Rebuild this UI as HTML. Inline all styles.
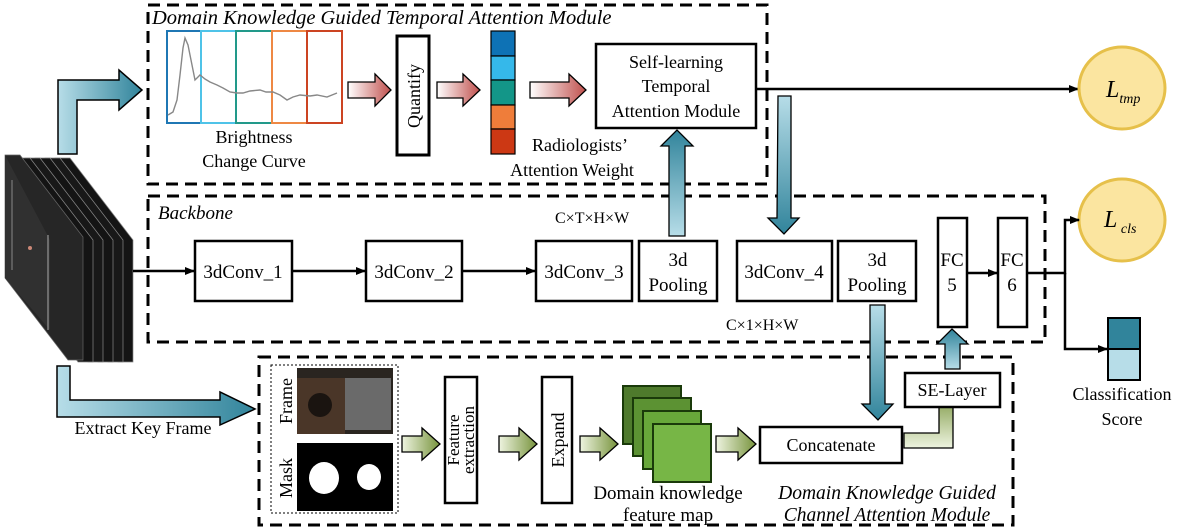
<!DOCTYPE html>
<html><head><meta charset="utf-8"><style>
html,body{margin:0;padding:0;background:#fff;}
svg{display:block;font-family:"Liberation Serif",serif;}
</style></head><body>
<svg width="1183" height="529" viewBox="0 0 1183 529" xmlns="http://www.w3.org/2000/svg">
<defs>
<linearGradient id="red" x1="0" x2="1" y1="0" y2="0"><stop offset="0" stop-color="#fff"/><stop offset="1" stop-color="#c0504d"/></linearGradient>
<linearGradient id="grn" x1="0" x2="1" y1="0" y2="0"><stop offset="0" stop-color="#eef4e0"/><stop offset="1" stop-color="#77933c"/></linearGradient>
<linearGradient id="grnv" x1="0" x2="0" y1="1" y2="0"><stop offset="0" stop-color="#eef4e0"/><stop offset="1" stop-color="#77933c"/></linearGradient>
<linearGradient id="blu" x1="0" x2="1" y1="0" y2="0"><stop offset="0" stop-color="#b7dde8"/><stop offset="1" stop-color="#31849b"/></linearGradient>
<linearGradient id="bluv" x1="0" x2="0" y1="0" y2="1"><stop offset="0" stop-color="#b7dde8"/><stop offset="1" stop-color="#31849b"/></linearGradient>
<linearGradient id="bluu" x1="0" x2="0" y1="1" y2="0"><stop offset="0" stop-color="#b7dde8"/><stop offset="1" stop-color="#31849b"/></linearGradient>
<marker id="ah" markerWidth="10" markerHeight="8" refX="9" refY="4" orient="auto" markerUnits="userSpaceOnUse"><path d="M0,0 L10,4 L0,8 Z" fill="#000"/></marker>
</defs>

<g fill="none" stroke="#000" stroke-width="3" stroke-dasharray="12,7">
<rect x="148" y="5" width="619" height="179"/>
<rect x="148" y="196" width="897" height="146"/>
<rect x="259" y="357" width="754" height="168"/>
</g>
<text x="152" y="24" font-size="20.5" font-style="italic">Domain Knowledge Guided Temporal Attention Module</text>
<text x="158" y="219" font-size="19" font-style="italic">Backbone</text>

<g stroke="#888" stroke-width="0.7">
<polygon points="55,158 70,158 133,240 133,362 118,362 55,280" fill="#141414"/>
<polygon points="45,158 60,158 123,240 123,362 108,362 45,280" fill="#181818"/>
<polygon points="35,158 50,158 113,240 113,362 98,362 35,280" fill="#141414"/>
<polygon points="25,158 40,158 103,240 103,362 88,362 25,280" fill="#181818"/>
<polygon points="15,158 30,158 93,240 93,362 78,362 15,280" fill="#141414"/>
</g>
<polygon points="5,155 20,155 83,237 83,360 68,360 5,278" fill="#262626" stroke="#666" stroke-width="0.7"/>
<polygon points="5,155 50,240 50,330 5,278" fill="#303030"/>
<line x1="12" y1="180" x2="12" y2="270" stroke="#888"/>
<line x1="48" y1="235" x2="48" y2="330" stroke="#aaa"/>
<circle cx="30" cy="248" r="2" fill="#c87"/>

<path d="M58,154 L58,80 L119,80 L119,70 L142,90 L119,110 L119,100 L77,100 L77,154 Z" fill="url(#blu)" stroke="#000" stroke-width="1.5"/>
<path d="M57,366 L57,417 L220,417 L220,425 L255,409 L220,392 L220,400 L70,400 L70,366 Z" fill="url(#blu)" stroke="#000" stroke-width="1.5"/>
<text x="143" y="434" font-size="18" text-anchor="middle">Extract Key Frame</text>

<g fill="none" stroke-width="2">
<rect x="167" y="31" width="34" height="92" stroke="#1f77b4"/>
<rect x="201" y="31" width="35" height="92" stroke="#4fc3e8"/>
<rect x="236" y="31" width="36" height="92" stroke="#22998a"/>
<rect x="272" y="31" width="35" height="92" stroke="#ee8844"/>
<rect x="307" y="31" width="35" height="92" stroke="#cc4422"/>
</g>
<polyline fill="none" stroke="#888" stroke-width="1.4" points="168,115 173,112 177,100 180,75 183,48 185,38 188,45 190,55 193,70 195,80 198,77 200,75 205,79 210,82 217,85 223,88 230,92 237,93 243,93 250,91 260,90 266,92 273,92 280,95 287,100 293,97 300,95 310,96 317,95 327,97 337,93"/>
<text x="254" y="143" font-size="18" text-anchor="middle">Brightness</text>
<text x="254" y="167" font-size="18" text-anchor="middle">Change Curve</text>

<g fill="url(#red)" stroke="#000" stroke-width="1.3">
<path d="M348,82 L375,82 L375,74 L391,90 L375,106 L375,98 L348,98 Z"/>
<path d="M437,82 L463,82 L463,74 L480,90 L463,106 L463,98 L437,98 Z"/>
<path d="M530,82 L569,82 L569,74 L586,90 L569,106 L569,98 L530,98 Z"/>
</g>
<rect x="397" y="36" width="32" height="119" fill="#fff" stroke="#000" stroke-width="3"/>
<text transform="translate(420,96) rotate(-90)" font-size="18" text-anchor="middle">Quantify</text>

<g stroke="#000" stroke-width="1.2">
<rect x="491" y="31" width="24" height="25" fill="#0e72b5"/>
<rect x="491" y="56" width="24" height="24" fill="#35b8ea"/>
<rect x="491" y="80" width="24" height="25" fill="#139688"/>
<rect x="491" y="105" width="24" height="24" fill="#ef7d3a"/>
<rect x="491" y="129" width="24" height="25" fill="#cc3814"/>
</g>
<text x="580" y="151" font-size="18" text-anchor="middle">Radiologists’</text>
<text x="572" y="176" font-size="18" text-anchor="middle">Attention Weight</text>

<rect x="596" y="44" width="160" height="84" fill="#fff" stroke="#000" stroke-width="2.5"/>
<text x="676" y="68" font-size="18" text-anchor="middle">Self-learning</text>
<text x="676" y="92" font-size="18" text-anchor="middle">Temporal</text>
<text x="676" y="117" font-size="18" text-anchor="middle">Attention Module</text>

<line x1="756" y1="89" x2="1078" y2="89" stroke="#000" stroke-width="2.5" marker-end="url(#ah)"/>
<ellipse cx="1122" cy="88" rx="43" ry="41" fill="#fbe5a0" stroke="#e6c04a" stroke-width="3"/>
<text x="1106" y="97" font-size="24" font-style="italic">L<tspan font-size="14" dy="6">tmp</tspan></text>
<ellipse cx="1122" cy="220" rx="43" ry="41" fill="#fbe5a0" stroke="#e6c04a" stroke-width="3"/>
<text x="1104" y="227" font-size="24" font-style="italic">L<tspan font-size="14" dy="6"> cls</tspan></text>

<path d="M669,236 L669,146 L661,146 L677,130 L693,146 L685,146 L685,236 Z" fill="url(#bluu)" stroke="#000" stroke-width="1.3"/>
<path d="M778,96 L791,96 L791,218 L799,218 L784,234 L768,218 L777,218 Z" fill="url(#bluv)" stroke="#000" stroke-width="1.3"/>
<path d="M870,305 L885,305 L885,404 L893,404 L878,420 L862,404 L870,404 Z" fill="url(#bluv)" stroke="#000" stroke-width="1.3"/>
<path d="M945,369 L945,344 L937,344 L952,329 L968,344 L960,344 L960,369 Z" fill="url(#bluu)" stroke="#000" stroke-width="1.3"/>

<text x="555" y="223" font-size="16">C×T×H×W</text>
<text x="726" y="330" font-size="16">C×1×H×W</text>

<g fill="#fff" stroke="#000" stroke-width="2.5">
<rect x="195" y="241" width="97" height="60"/>
<rect x="366" y="241" width="96" height="60"/>
<rect x="536" y="241" width="96" height="60"/>
<rect x="639" y="241" width="78" height="60"/>
<rect x="737" y="241" width="95" height="60"/>
<rect x="838" y="241" width="78" height="60"/>
<rect x="938" y="218" width="29" height="109"/>
<rect x="998" y="218" width="29" height="109"/>
</g>
<g font-size="19" text-anchor="middle">
<text x="243" y="278">3dConv_1</text>
<text x="414" y="278">3dConv_2</text>
<text x="584" y="278">3dConv_3</text>
<text x="678" y="266">3d</text><text x="678" y="291">Pooling</text>
<text x="784" y="278">3dConv_4</text>
<text x="877" y="266">3d</text><text x="877" y="291">Pooling</text>
<text x="952" y="266">FC</text><text x="952" y="291">5</text>
<text x="1012" y="266">FC</text><text x="1012" y="291">6</text>
</g>
<g stroke="#000" stroke-width="2.5" marker-end="url(#ah)" fill="none">
<line x1="133" y1="271" x2="194" y2="271"/>
<line x1="292" y1="271" x2="365" y2="271"/>
<line x1="462" y1="271" x2="535" y2="271"/>
<line x1="967" y1="273" x2="997" y2="273"/>
<polyline points="1027,273 1065,273 1065,220 1079,220"/>
<polyline points="1065,273 1065,349 1107,349"/>
</g>
<rect x="1108" y="318" width="32" height="31" fill="#31849b" stroke="#000" stroke-width="2"/>
<rect x="1108" y="349" width="32" height="31" fill="#b7dde8" stroke="#000" stroke-width="2"/>
<text x="1122" y="400" font-size="18" text-anchor="middle">Classification</text>
<text x="1122" y="425" font-size="18" text-anchor="middle">Score</text>

<rect x="271" y="365" width="127" height="148" fill="none" stroke="#000" stroke-width="1" stroke-dasharray="2,2"/>
<rect x="297" y="368" width="96" height="66" fill="#2a2520"/>
<rect x="297" y="378" width="48" height="56" fill="#4a3628"/>
<circle cx="320" cy="405" r="12" fill="#1a1410"/>
<rect x="345" y="378" width="46" height="52" fill="#6a6a6a"/>
<rect x="297" y="443" width="96" height="68" fill="#000"/>
<ellipse cx="324" cy="478" rx="15" ry="16" fill="#fff"/>
<ellipse cx="369" cy="477" rx="12" ry="13" fill="#fff"/>
<text transform="translate(292,401) rotate(-90)" font-size="18" text-anchor="middle">Frame</text>
<text transform="translate(292,478) rotate(-90)" font-size="18" text-anchor="middle">Mask</text>

<g fill="url(#grn)" stroke="#000" stroke-width="1.3">
<path d="M402,436 L422,436 L422,428 L440,444 L422,460 L422,452 L402,452 Z"/>
<path d="M499,436 L519,436 L519,428 L537,444 L519,460 L519,452 L499,452 Z"/>
<path d="M580,436 L600,436 L600,428 L618,444 L600,460 L600,452 L580,452 Z"/>
<path d="M716,436 L738,436 L738,428 L756,444 L738,460 L738,452 L716,452 Z"/>
</g>
<path d="M904,433 L904,448 L953,448 L953,405 L962,405 L946,391 L930,405 L939,405 L939,433 Z" fill="url(#grnv)" stroke="#000" stroke-width="1.3"/>

<g fill="#fff" stroke="#000" stroke-width="2.5">
<rect x="445" y="377" width="32" height="126"/>
<rect x="542" y="377" width="30" height="126"/>
<rect x="760" y="427" width="142" height="36"/>
<rect x="905" y="373" width="95" height="34"/>
</g>
<text transform="translate(459,440) rotate(-90)" font-size="17" text-anchor="middle">Feature</text>
<text transform="translate(474,440) rotate(-90)" font-size="17" text-anchor="middle">extraction</text>
<text transform="translate(564,440) rotate(-90)" font-size="18" text-anchor="middle">Expand</text>
<text x="831" y="451" font-size="18" text-anchor="middle">Concatenate</text>
<text x="952" y="396" font-size="18" text-anchor="middle">SE-Layer</text>

<g stroke="#1a3a0a" stroke-width="2">
<rect x="623" y="386" width="58" height="58" fill="#4e7a2c"/>
<rect x="633" y="398" width="58" height="58" fill="#5c9233"/>
<rect x="643" y="411" width="58" height="58" fill="#68a83a"/>
<rect x="653" y="424" width="58" height="58" fill="#77b646"/>
</g>
<text x="668" y="499" font-size="19" text-anchor="middle">Domain knowledge</text>
<text x="668" y="521" font-size="19" text-anchor="middle">feature map</text>
<text x="887" y="499" font-size="19.5" font-style="italic" text-anchor="middle">Domain Knowledge Guided</text>
<text x="887" y="521" font-size="19.5" font-style="italic" text-anchor="middle">Channel Attention Module</text>
</svg>
</body></html>
